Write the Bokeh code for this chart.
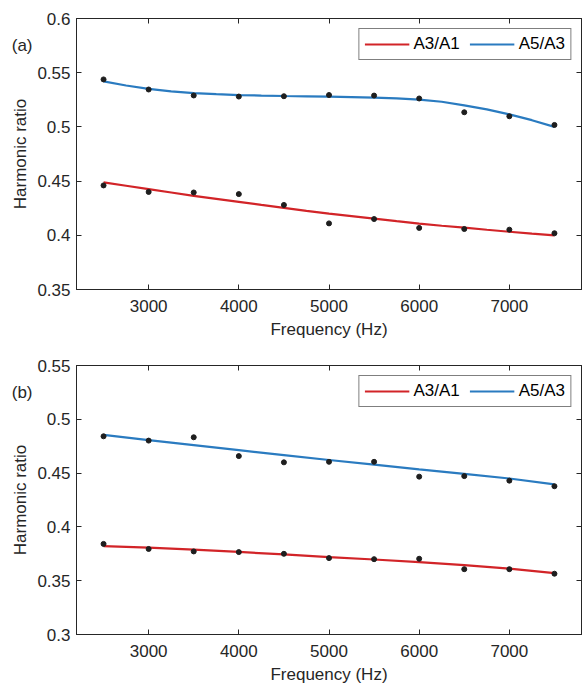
from bokeh.plotting import figure
from bokeh.layouts import column
from bokeh.models import Range1d, FixedTicker, LinearAxis
from bokeh.embed import file_html
from bokeh.resources import INLINE

# ---------------- data ----------------
freq = [2500, 3000, 3500, 4000, 4500, 5000, 5500, 6000, 6500, 7000, 7500]

# panel (a) measured points
a_a3a1_pts = [0.446, 0.440, 0.4395, 0.438, 0.428, 0.411, 0.415, 0.4068, 0.4058, 0.4052, 0.4019]
a_a5a3_pts = [0.5438, 0.5345, 0.529, 0.528, 0.5283, 0.5294, 0.5289, 0.5262, 0.5135, 0.5098, 0.5018]
# panel (a) fitted curves
a_fit_freq = [2500, 2750, 3000, 3250, 3500, 3750, 4000, 4250, 4500, 4750, 5000,
              5250, 5500, 5750, 6000, 6250, 6500, 6750, 7000, 7250, 7500]
a_a3a1_fit = [0.4488, 0.4457, 0.4426, 0.4395, 0.4364, 0.4336, 0.4308, 0.4280, 0.4253, 0.4226, 0.4200,
              0.4177, 0.4154, 0.4130, 0.4107, 0.4088, 0.4070, 0.4051, 0.4033, 0.4016, 0.4000]
a_a5a3_fit = [0.5420, 0.5382, 0.5350, 0.5328, 0.5312, 0.5302, 0.5294, 0.5289, 0.5285, 0.5282, 0.5279,
              0.5275, 0.5270, 0.5263, 0.5252, 0.5232, 0.5198, 0.5162, 0.5115, 0.5062, 0.5000]

# panel (b) measured points
b_a3a1_pts = [0.3842, 0.3795, 0.3772, 0.3766, 0.3750, 0.3710, 0.3700, 0.3704, 0.3607, 0.3607, 0.3565]
b_a5a3_pts = [0.4842, 0.4802, 0.4833, 0.4658, 0.4600, 0.4605, 0.4605, 0.4467, 0.4472, 0.4430, 0.4378]
# panel (b) fitted curves
b_fit_freq = freq
b_a3a1_fit = [0.3822, 0.3808, 0.3789, 0.3767, 0.3744, 0.3720, 0.3697, 0.3672, 0.3645, 0.3612, 0.3570]
b_a5a3_fit = [0.4855, 0.4807, 0.4760, 0.4713, 0.4667, 0.4622, 0.4578, 0.4535, 0.4493, 0.4450, 0.4395]

x_ticks = [3000, 4000, 5000, 6000, 7000]
x_tick_labels = ["3000", "4000", "5000", "6000", "7000"]
a_y_ticks = [0.35, 0.4, 0.45, 0.5, 0.55, 0.6]
a_y_tick_labels = ["0.35", "0.4", "0.45", "0.5", "0.55", "0.6"]
b_y_ticks = [0.3, 0.35, 0.4, 0.45, 0.5, 0.55]
b_y_tick_labels = ["0.3", "0.35", "0.4", "0.45", "0.5", "0.55"]

series_names = ["A3/A1", "A5/A3"]
panel_tags = ["(a)", "(b)"]
panel_tag_y = [0.575, 0.525]

RED = "#d22428"
BLUE = "#2a7bc0"
DOT = "#1e1e1e"
AX = "#262626"
FONT = "Liberation Sans"
FS = "17px"

W = 582


def make_panel(height, top_border, bottom_border, y_lo, y_hi, y_ticks, y_labels,
               fit_x, fit_r, fit_b, pts_r, pts_b, tag, tag_y):
    p = figure(width=W, height=height, output_backend="svg", toolbar_location=None,
               x_range=Range1d(2200, 7800), y_range=Range1d(y_lo, y_hi),
               min_border_left=76, min_border_right=1,
               min_border_top=top_border, min_border_bottom=bottom_border)
    p.background_fill_color = "white"
    p.border_fill_color = "white"
    p.outline_line_color = AX
    p.outline_line_width = 1
    p.xgrid.visible = False
    p.ygrid.visible = False

    xt = FixedTicker(ticks=x_ticks)
    yt = FixedTicker(ticks=y_ticks)
    xo = {t: s for t, s in zip(x_ticks, x_tick_labels)}
    yo = {t: s for t, s in zip(y_ticks, y_labels)}

    for ax, tk, ov in ((p.xaxis[0], xt, xo), (p.yaxis[0], yt, yo)):
        ax.ticker = tk
        ax.major_label_overrides = ov
        ax.major_tick_in = 5
        ax.major_tick_out = 0
        ax.minor_tick_line_color = None
        ax.axis_line_color = AX
        ax.major_tick_line_color = AX
        ax.major_label_text_color = AX
        ax.major_label_text_font = FONT
        ax.major_label_text_font_size = FS
        ax.axis_label_text_font = FONT
        ax.axis_label_text_font_size = FS
        ax.axis_label_text_font_style = "normal"
        ax.axis_label_text_color = AX

    p.xaxis[0].axis_label = "Frequency (Hz)"
    p.xaxis[0].major_label_standoff = 10
    p.xaxis[0].axis_label_standoff = 5
    p.yaxis[0].axis_label = "Harmonic ratio"
    p.yaxis[0].major_label_standoff = 6
    p.yaxis[0].axis_label_standoff = 4

    # box ticks on top and right (no labels)
    for tk, side in ((x_ticks, "above"), (y_ticks, "right")):
        ax = LinearAxis(ticker=FixedTicker(ticks=tk), major_tick_in=5, major_tick_out=0,
                        major_label_text_font_size="0px", major_label_text_color=None,
                        major_label_text_alpha=0, major_label_standoff=0,
                        minor_tick_line_color=None, axis_line_color=AX,
                        major_tick_line_color=AX)
        p.add_layout(ax, side)

    # panel tag "(a)"/"(b)" drawn as the single label of an outer, invisible left axis
    tag_ax = LinearAxis(ticker=FixedTicker(ticks=[tag_y]),
                        major_label_overrides={tag_y: tag},
                        major_tick_in=0, major_tick_out=0, major_tick_line_color=None,
                        minor_tick_line_color=None, axis_line_color=None,
                        major_label_standoff=-24,
                        major_label_text_font=FONT, major_label_text_font_size=FS,
                        major_label_text_color=AX)
    p.add_layout(tag_ax, "left")

    p.line(fit_x, fit_r, line_color=RED, line_width=2.2, legend_label=series_names[0])
    p.line(fit_x, fit_b, line_color=BLUE, line_width=2.2, legend_label=series_names[1])
    p.scatter(freq, pts_r, size=5, color=DOT)
    p.scatter(freq, pts_b, size=5, color=DOT)

    lg = p.legend[0]
    lg.location = "top_right"
    lg.orientation = "horizontal"
    lg.border_line_color = "black"
    lg.border_line_width = 1
    lg.background_fill_alpha = 1
    lg.margin = 10
    lg.padding = 5
    lg.spacing = 10
    lg.glyph_width = 45
    lg.glyph_height = 18
    lg.label_height = 18
    lg.label_standoff = 4
    lg.label_text_font = FONT
    lg.label_text_font_size = FS
    lg.label_text_color = "black"
    return p


pa = make_panel(353, 18, 64, 0.35, 0.6, a_y_ticks, a_y_tick_labels,
                a_fit_freq, a_a3a1_fit, a_a5a3_fit, a_a3a1_pts, a_a5a3_pts,
                panel_tags[0], panel_tag_y[0])
pb = make_panel(333, 12, 10, 0.3, 0.55, b_y_ticks, b_y_tick_labels,
                b_fit_freq, b_a3a1_fit, b_a5a3_fit, b_a3a1_pts, b_a5a3_pts,
                panel_tags[1], panel_tag_y[1])

layout = column(pa, pb, spacing=0)
open("out.html", "w").write(file_html(layout, INLINE))
